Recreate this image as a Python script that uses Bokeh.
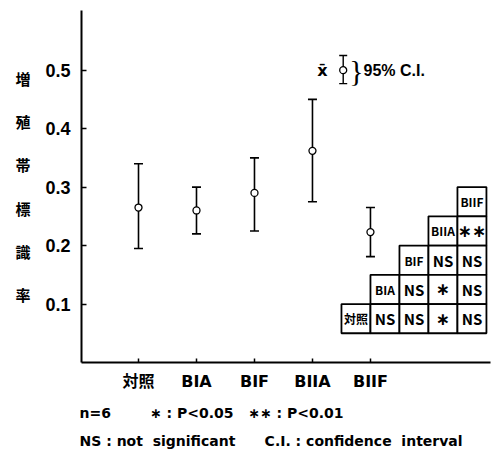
from bokeh.plotting import figure
from bokeh.models import Range1d, FixedTicker, Title, ColumnDataSource
from bokeh.core.properties import value
from bokeh.embed import file_html
from bokeh.resources import INLINE

# ---- data ----
categories = ["対照", "BIA", "BIF", "BIIA", "BIIF"]
means = [0.265, 0.26, 0.29, 0.362, 0.223]
ci_low = [0.195, 0.22, 0.225, 0.275, 0.181]
ci_high = [0.34, 0.30, 0.35, 0.45, 0.265]
y_ticks = [0.1, 0.2, 0.3, 0.4, 0.5]
y_tick_labels = ["0.1", "0.2", "0.3", "0.4", "0.5"]

# significance table (rows top -> bottom)
table_rows = [
    ["", "", "", "", "BIIF"],
    ["", "", "", "BIIA", "∗∗"],
    ["", "", "BIF", "NS", "NS"],
    ["", "BIA", "NS", "∗", "NS"],
    ["対照", "NS", "NS", "∗", "NS"],
]

# legend key values
legend_mean = 0.5
legend_low = 0.477
legend_high = 0.525

NB = "\u00a0"
footnotes = ["n=6" + NB * 8 + "∗" + NB + ":" + NB + "P<0.05" + NB * 3 + "∗∗" + NB + ":" + NB + "P<0.01",
             "NS" + NB + ":" + NB + "not" + NB * 2 + "significant" + NB * 6 + "C.I." + NB + ":" + NB
             + "confidence" + NB * 2 + "interval"]

# ---- figure ----
p = figure(width=494, height=453, output_backend="svg", toolbar_location=None,
           x_range=Range1d(0.017, 7.07), y_range=Range1d(0, 0.602),
           min_border_left=81, min_border_right=4, min_border_top=10, min_border_bottom=91)
p.outline_line_color = None
p.grid.visible = False
p.background_fill_color = "white"
p.border_fill_color = "white"

xs = list(range(1, len(categories) + 1))

# x axis
xa = p.xaxis[0]
xa.ticker = FixedTicker(ticks=xs)
xa.major_label_overrides = {i: c for i, c in zip(xs, categories)}
xa.minor_tick_line_color = None
xa.major_tick_in = 4
xa.major_tick_out = 0
xa.axis_line_width = 2
xa.major_tick_line_width = 1.5
xa.major_label_standoff = 9
xa.major_label_text_font = "DejaVu Sans, Noto Sans CJK JP"
xa.major_label_text_font_style = "bold"
xa.major_label_text_font_size = "16px"
xa.major_label_text_color = "black"

# y axis
ya = p.yaxis[0]
ya.ticker = FixedTicker(ticks=y_ticks)
ya.major_label_overrides = {t: l for t, l in zip(y_ticks, y_tick_labels)}
ya.minor_tick_line_color = None
ya.major_tick_in = 5
ya.major_tick_out = 0
ya.axis_line_width = 2
ya.major_tick_line_width = 1.5
ya.major_label_standoff = 11
ya.major_label_text_font = "Liberation Sans"
ya.major_label_text_font_style = "bold"
ya.major_label_text_font_size = "18px"
ya.major_label_text_color = "black"
ya.axis_label = "増\n殖\n帯\n標\n識\n率"
ya.axis_label_orientation = "horizontal"
ya.axis_label_text_font = "Noto Sans CJK JP"
ya.axis_label_text_font_style = "bold"
ya.axis_label_text_font_size = "15px"
ya.axis_label_text_line_height = 2.05
ya.axis_label_text_color = "black"
ya.axis_label_standoff = 12

# error bars
src = ColumnDataSource(dict(x=xs, mean=means, lo=ci_low, hi=ci_high))
p.segment(x0="x", y0="lo", x1="x", y1="hi", source=src, line_color="black", line_width=1.6)
p.scatter(x="x", y="lo", source=src, marker="dash", size=9, line_color="black", line_width=1.6)
p.scatter(x="x", y="hi", source=src, marker="dash", size=9, line_color="black", line_width=1.6)
p.scatter(x="x", y="mean", source=src, marker="circle", size=7, fill_color="white",
          line_color="black", line_width=1.3)

# legend key
lx = 4.53
p.segment(x0=[lx], y0=[legend_low], x1=[lx], y1=[legend_high], line_color="black", line_width=1.4)
p.scatter(x=[lx, lx], y=[legend_low, legend_high], marker="dash", size=8, line_color="black", line_width=1.4)
p.scatter(x=[lx], y=[legend_mean], marker="circle", size=7, fill_color="white", line_color="black", line_width=1.3)
p.text(x=[4.17], y=[legend_mean], text=["x̄"], text_font=value("DejaVu Sans"), text_font_style="bold",
       text_font_size="16px", text_align="center", text_baseline="middle", text_color="black")
p.text(x=[4.76], y=[legend_mean], text=["}"], text_font=value("Liberation Serif"), text_font_size="30px",
       text_align="center", text_baseline="middle", text_color="black")
p.text(x=[4.88], y=[legend_mean], text=["95% C.I."], text_font=value("Liberation Sans"),
       text_font_style="bold", text_font_size="16px", text_align="left", text_baseline="middle",
       text_color="black")

# significance table
cell_w, cell_h = 0.5, 0.05
tbl_left, tbl_top = 4.5, 0.30
cx, cy, ct, cs, cf = [], [], [], [], []
for i, row in enumerate(table_rows):
    for j, t in enumerate(row):
        if t == "":
            continue
        cx.append(tbl_left + cell_w * (j + 0.5))
        cy.append(tbl_top - cell_h * (i + 0.5))
        ct.append(t)
        if t in ("BIIA", "BIIF", "BIA", "BIF", "対照"):
            cs.append("12px"); cf.append("Noto Sans CJK JP")
        elif "∗" in t:
            cs.append("17px"); cf.append("DejaVu Sans")
        else:
            cs.append("15px"); cf.append("Noto Sans CJK JP")
tsrc = ColumnDataSource(dict(x=cx, y=cy, t=ct, s=cs, f=cf))
p.rect(x="x", y="y", width=cell_w, height=cell_h, source=tsrc, fill_color="white",
       line_color="black", line_width=1.8)
p.text(x="x", y="y", text="t", source=tsrc, text_font="f",
       text_font_style="bold", text_font_size="s", text_align="center", text_baseline="middle",
       text_color="black")

# footnotes
for k, note in enumerate(footnotes):
    p.add_layout(Title(text=note, align="left", offset=-2, text_font="DejaVu Sans",
                       text_font_size="14px", text_font_style="bold", text_color="black",
                       standoff=3 if k else 18), "below")

open("out.html", "w").write(file_html(p, INLINE))
